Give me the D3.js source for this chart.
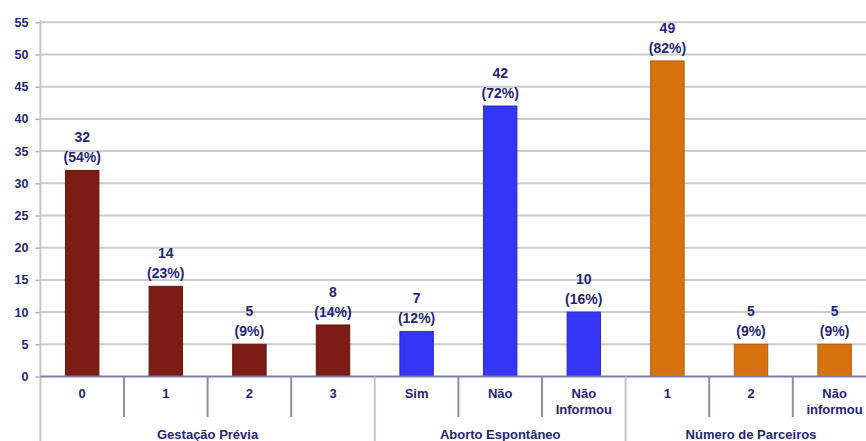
<!DOCTYPE html>
<html><head><meta charset="utf-8">
<script src="https://cdn.jsdelivr.net/npm/d3@7"></script>
<style>body{margin:0;background:#fff}svg{display:block}text{font-family:Arial,"Liberation Sans",sans-serif;font-weight:bold;fill:#25257a}</style>
</head><body>
<script>
const groups = ["Gestação Prévia","Aborto Espontâneo","Número de Parceiros"];
const categories = [
  {group:0, label:["0"]},{group:0, label:["1"]},{group:0, label:["2"]},{group:0, label:["3"]},
  {group:1, label:["Sim"]},{group:1, label:["Não"]},{group:1, label:["Não","Informou"]},
  {group:2, label:["1"]},{group:2, label:["2"]},{group:2, label:["Não","informou"]}
];
const values = [32,14,5,8,7,42,10,49,5,5];
const percents = ["54%","23%","9%","14%","12%","72%","16%","82%","9%","9%"];
const groupColors = ["#7d1c15","#3535f5","#d8720f"];
const yTicks = [0,5,10,15,20,25,30,35,40,45,50,55];

const W=866,H=441;
const svg=d3.select("body").append("svg").attr("width",W).attr("height",H);
const x0=40.4, step=83.6;
const x=d3.scaleBand().domain(d3.range(categories.length)).range([x0,x0+step*categories.length]).paddingInner(0.6).paddingOuter(0.3);
const y=d3.scaleLinear().domain([0,55]).range([376.5,22.3]);

// gridlines
svg.append("g").selectAll("line").data(yTicks.filter(d=>d>0)).join("line")
  .attr("x1",x0).attr("x2",W).attr("y1",d=>y(d)).attr("y2",d=>y(d))
  .attr("stroke","#cccccc").attr("stroke-width",2);

// y axis
const ya=svg.append("g").attr("transform",`translate(${x0},0)`).call(d3.axisLeft(y).tickValues(yTicks).tickSize(5).tickPadding(7));
ya.select(".domain").remove();
ya.selectAll(".tick line").attr("stroke","#b0b0c4").attr("stroke-width",1.5);
ya.selectAll(".tick text").style("font-size","12.5px").style("font-family","Arial, 'Liberation Sans', sans-serif").style("font-weight","bold").attr("fill","#25257a");
svg.append("line").attr("x1",x0).attr("x2",x0).attr("y1",y(55)-2).attr("y2",H).attr("stroke","#c4c4d4").attr("stroke-width",2);

// bars
svg.append("g").selectAll("rect").data(values).join("rect")
  .attr("x",(d,i)=>x(i)).attr("width",x.bandwidth())
  .attr("y",d=>y(d)).attr("height",d=>y(0)-y(d))
  .attr("fill",(d,i)=>groupColors[categories[i].group])
  .attr("stroke",(d,i)=>d3.color(groupColors[categories[i].group]).darker(0.6)).attr("stroke-width",1);

// bar labels
const lab=svg.append("g").selectAll("text").data(values).join("text")
  .attr("text-anchor","middle").style("font-size","14px")
  .attr("x",(d,i)=>x(i)+x.bandwidth()/2);
lab.append("tspan").attr("x",(d,i)=>x(i)+x.bandwidth()/2).attr("y",d=>y(d)-28).text(d=>d);
lab.append("tspan").attr("x",(d,i)=>x(i)+x.bandwidth()/2).attr("y",d=>y(d)-8).text((d,i)=>"("+percents[i]+")");

// baseline
svg.append("line").attr("x1",x0).attr("x2",W).attr("y1",y(0)).attr("y2",y(0)).attr("stroke","#7c7ca4").attr("stroke-width",2);

// separators
const seps=d3.range(1,categories.length);
svg.append("g").selectAll("line").data(seps).join("line")
  .attr("x1",i=>x0+step*i).attr("x2",i=>x0+step*i)
  .attr("y1",y(0)).attr("y2",i=>categories[i].group!==categories[i-1].group?H:417)
  .attr("stroke",i=>categories[i].group!==categories[i-1].group?"#c4c4d4":"#8c8cac").attr("stroke-width",2);

// category labels
const cl=svg.append("g").selectAll("text").data(categories).join("text")
  .attr("text-anchor","middle").style("font-size","13px");
cl.each(function(c,i){
  const t=d3.select(this);
  c.label.forEach((s,k)=>t.append("tspan").attr("x",x0+step*(i+0.5)).attr("y",398+k*16).text(s));
});

// group labels
svg.append("g").selectAll("text").data(groups).join("text")
  .attr("text-anchor","middle").style("font-size","13px")
  .attr("x",(g,gi)=>{const idx=categories.map((c,i)=>c.group===gi?i:-1).filter(i=>i>=0);return x0+step*(idx[0]+idx[idx.length-1]+1)/2;})
  .attr("y",439).text(d=>d);
</script>
</body></html>
